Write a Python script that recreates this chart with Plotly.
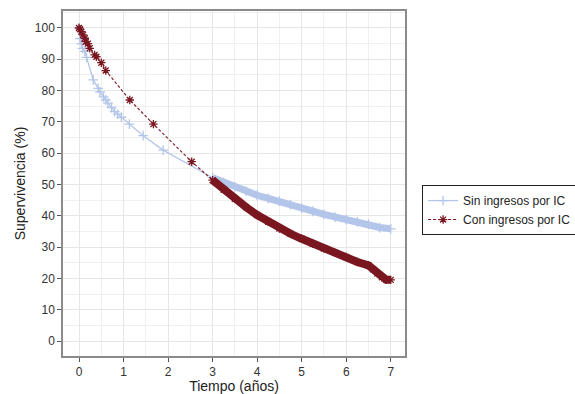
import plotly.graph_objects as go

# --- data ---
t_sin_early = [0, 0.02, 0.05, 0.08, 0.13, 0.17, 0.32, 0.43, 0.47, 0.55, 0.60, 0.65,
               0.73, 0.80, 0.87, 0.95, 1.13, 1.44, 1.89]
s_sin_early = [100, 96.6, 94.9, 93.5, 92.5, 90.6, 83.4, 80.7, 79.6, 78.0, 77.0, 76.0,
               74.6, 73.3, 72.5, 71.5, 69.3, 65.6, 61.0]
t_sin_late = [3.0, 3.25, 3.5, 3.75, 4.0, 4.25, 4.5, 4.75, 5.0, 5.25, 5.5, 5.75,
              6.0, 6.25, 6.5, 6.75, 7.0]
s_sin_late = [52.2, 50.7, 49.3, 47.9, 46.6, 45.6, 44.7, 43.6, 42.5, 41.5, 40.5, 39.6,
              38.8, 38.1, 37.4, 36.3, 35.9]

t_con_early = [0, 0.02, 0.05, 0.09, 0.13, 0.15, 0.20, 0.24, 0.35, 0.39, 0.50, 0.60,
               1.14, 1.67, 2.53]
s_con_early = [100, 99.6, 98.8, 97.8, 96.7, 95.6, 95.0, 93.5, 91.4, 90.8, 88.9, 86.4,
               77.0, 69.3, 57.3]
t_con_late = [3.0, 3.25, 3.5, 3.75, 4.0, 4.25, 4.5, 4.75, 5.0, 5.25, 5.5, 5.75,
              6.0, 6.25, 6.5, 6.6, 6.7, 6.8, 6.9, 7.0]
s_con_late = [51.4, 48.3, 45.5, 42.8, 40.3, 38.1, 36.0, 34.3, 32.7, 31.1, 29.6, 28.2,
              26.9, 25.3, 24.2, 23.0, 21.6, 20.4, 19.6, 19.6]

x_ticks = [0, 1, 2, 3, 4, 5, 6, 7]
y_ticks = [0, 10, 20, 30, 40, 50, 60, 70, 80, 90, 100]

BLUE = "#b3c6ea"
RED = "#7a1620"
FONT = "Liberation Sans, Arial, sans-serif"

fig = go.Figure()

# Sin ingresos por IC
fig.add_trace(go.Scatter(
    x=t_sin_early + t_sin_late, y=s_sin_early + s_sin_late,
    mode="lines+markers", name="Sin ingresos por IC",
    line=dict(color=BLUE, width=1.3),
    marker=dict(symbol="cross-thin-open", size=7, line=dict(color=BLUE, width=1.3)),
))
fig.add_trace(go.Scatter(
    x=t_sin_late, y=s_sin_late, mode="lines", showlegend=False,
    line=dict(color=BLUE, width=7), hoverinfo="skip",
))

# Con ingresos por IC
fig.add_trace(go.Scatter(
    x=t_con_early + t_con_late, y=s_con_early + s_con_late,
    mode="lines+markers", name="Con ingresos por IC",
    line=dict(color=RED, width=1.1, dash="3px,2px"),
    marker=dict(symbol="asterisk-open", size=7, line=dict(color=RED, width=1.3)),
))
fig.add_trace(go.Scatter(
    x=t_con_late, y=s_con_late, mode="lines", showlegend=False,
    line=dict(color=RED, width=8), hoverinfo="skip",
))

axis_common = dict(
    showline=True, mirror=True, linecolor="#8a8a8a", linewidth=1.5,
    ticks="outside", ticklen=4, tickcolor="#555555", tickwidth=1,
    gridcolor="#e6e6e6", gridwidth=1.2, zeroline=False, automargin=False,
    tickfont=dict(family=FONT, size=12, color="#333333"),
)

fig.update_xaxes(
    range=[-0.36, 7.32], tickvals=x_ticks, **axis_common,
    minor=dict(dtick=0.5, tick0=0, showgrid=True, gridcolor="#f0f0f0", gridwidth=1),
    title=dict(text="Tiempo (años)", standoff=2,
               font=dict(family=FONT, size=14, color="#222222")),
)
fig.update_yaxes(
    range=[-4.7, 105.4], tickvals=y_ticks, **axis_common,
    minor=dict(dtick=5, tick0=0, showgrid=True, gridcolor="#f0f0f0", gridwidth=1),
    title=dict(text="Supervivencia (%)", standoff=6,
               font=dict(family=FONT, size=14, color="#222222")),
)

fig.update_layout(
    width=575, height=394,
    margin=dict(l=63, r=170, t=11, b=38, autoexpand=False),
    paper_bgcolor="white", plot_bgcolor="white",
    legend=dict(
        x=1.05, xanchor="left", y=0.423, yanchor="middle",
        bordercolor="#222222", borderwidth=1, bgcolor="white",
        font=dict(family=FONT, size=12, color="#222222"),
        itemwidth=30, tracegroupgap=0,
    ),
    showlegend=True,
)

fig.write_html("out.html",
               config={"displayModeBar": False},
               post_script="document.body.style.margin='0';document.body.style.overflow='hidden';")
